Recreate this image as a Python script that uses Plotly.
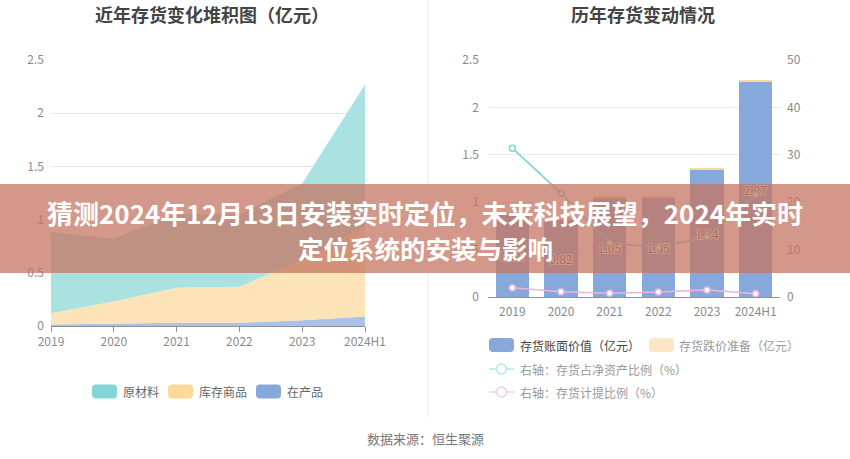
import plotly.graph_objects as go

W, H = 850, 459

# ---------------- data ----------------
categories = ["2019", "2020", "2021", "2022", "2023", "2024H1"]
# left: stacked area (亿元)
raw_material = [0.76, 0.59, 0.69, 0.68, 0.72, 1.34]      # 原材料
finished_goods = [0.105, 0.205, 0.33, 0.34, 0.565, 0.84]  # 库存商品
work_in_progress = [0.015, 0.025, 0.03, 0.03, 0.055, 0.09]  # 在产品
# right: bars (亿元) + lines (%)
book_value = [0.88, 0.82, 1.05, 1.05, 1.34, 2.27]         # 存货账面价值
impairment = [0.018, 0.009, 0.008, 0.011, 0.02, 0.016]     # 存货跌价准备
inv_to_net_assets = [31.4, 21.9, 11.4, 10.5, 12.7, 21.5]   # 存货占净资产比例
provision_ratio = [1.96, 1.1, 0.8, 1.05, 1.5, 0.7]         # 存货计提比例
left_ticks = [0, 0.5, 1, 1.5, 2, 2.5]
left_tick_text = ["0", "0.5", "1", "1.5", "2", "2.5"]
right_ticks = [0, 10, 20, 30, 40, 50]

FONT = "Noto Sans CJK SC"
TEAL, ORANGE, BLUE, PINK = "#83D6D8", "#FDD89A", "#87A8DA", "#E8B6E0"
TICK_COLOR = "#8a8a8a"
GRID = "#E4E9F1"


def px(x):
    return x / W


def py(y):
    return 1 - y / H


fig = go.Figure()

# ---- left stacked area ----
for name, vals, fc in [("在产品", work_in_progress, "#ABC2E8"),
                       ("库存商品", finished_goods, "#FDE4B8"),
                       ("原材料", raw_material, "#AAE2E2")]:
    fig.add_trace(go.Scatter(x=categories, y=vals, name=name, mode="lines",
                             stackgroup="a", line=dict(width=0), fillcolor=fc,
                             xaxis="x", yaxis="y", hoverinfo="skip"))

# ---- right bars ----
fig.add_trace(go.Bar(x=categories, y=book_value, name="存货账面价值（亿元）",
                     marker=dict(color=BLUE, line=dict(width=0)), width=0.68,
                     text=[f"{v:.2f}" for v in book_value], textposition="inside",
                     insidetextanchor="middle",
                     textfont=dict(family=FONT, size=12, color="#555555",
                                   shadow="1px 1px 0 #fff, -1px -1px 0 #fff, 1px -1px 0 #fff, -1px 1px 0 #fff"),
                     xaxis="x2", yaxis="y2", hoverinfo="skip"))
fig.add_trace(go.Bar(x=categories, y=impairment, name="存货跌价准备（亿元）",
                     marker=dict(color=ORANGE, line=dict(width=0)), width=0.68,
                     xaxis="x2", yaxis="y2", hoverinfo="skip"))
fig.add_trace(go.Scatter(x=categories, y=inv_to_net_assets, mode="lines+markers",
                         line=dict(color="#7FD5D2", width=1.6),
                         marker=dict(symbol="circle", size=6, color="white",
                                     line=dict(color="#7FD5D2", width=1.5)),
                         xaxis="x2", yaxis="y3", hoverinfo="skip"))
fig.add_trace(go.Scatter(x=categories, y=provision_ratio, mode="lines+markers",
                         line=dict(color=PINK, width=1.6),
                         marker=dict(symbol="circle", size=6, color="white",
                                     line=dict(color=PINK, width=1.5)),
                         xaxis="x2", yaxis="y3", hoverinfo="skip"))

tickfont = dict(family=FONT, size=12, color=TICK_COLOR)

shapes = []
annotations = []

# divider
shapes.append(dict(type="line", xref="paper", yref="paper", x0=px(428), x1=px(428),
                   y0=py(0), y1=py(418), line=dict(color="#EEEEEE", width=1), layer="below"))


def rrect(x0, y0, x1, y1, r, color):
    pts = (f"M {px(x0 + r)},{py(y0)} L {px(x1 - r)},{py(y0)} Q {px(x1)},{py(y0)} {px(x1)},{py(y0 + r)} "
           f"L {px(x1)},{py(y1 - r)} Q {px(x1)},{py(y1)} {px(x1 - r)},{py(y1)} "
           f"L {px(x0 + r)},{py(y1)} Q {px(x0)},{py(y1)} {px(x0)},{py(y1 - r)} "
           f"L {px(x0)},{py(y0 + r)} Q {px(x0)},{py(y0)} {px(x0 + r)},{py(y0)} Z")
    return dict(type="path", xref="paper", yref="paper", path=pts, fillcolor=color,
                line=dict(width=0))


def label(x, y, text, color="#666666", size=12, anchor="left", weight=None):
    f = dict(family=FONT, size=size, color=color)
    if weight:
        f["weight"] = weight
    annotations.append(dict(x=px(x), y=py(y), xref="paper", yref="paper", text=text,
                            showarrow=False, xanchor=anchor, yanchor="middle", font=f))


# titles
label(212, 14, "近年存货变化堆积图（亿元）", color="#444444", size=18, anchor="center", weight=700)
label(643, 14, "历年存货变动情况", color="#444444", size=18, anchor="center", weight=700)

# left legend
for x0, name, c in [(92, "原材料", TEAL), (168, "库存商品", ORANGE), (256, "在产品", BLUE)]:
    shapes.append(rrect(x0, 384.5, x0 + 25, 398.5, 4, c))
    label(x0 + 29, 391, name, color="#666666")

# right legend
shapes.append(rrect(489, 338, 514, 352, 4, BLUE))
label(518, 345, "存货账面价值（亿元）", color="#444444")
shapes.append(rrect(649, 338, 674, 352, 4, "#FDE6C4"))
label(677, 345, "存货跌价准备（亿元）", color="#999999")
for yy, c, t in [(369, "#B5E8E6", "右轴：存货占净资产比例（%）"), (392, "#F0CFEA", "右轴：存货计提比例（%）")]:
    shapes.append(dict(type="line", xref="paper", yref="paper", x0=px(489), x1=px(514),
                       y0=py(yy), y1=py(yy), line=dict(color=c, width=1.5)))
    shapes.append(dict(type="circle", xref="paper", yref="paper", x0=px(496.5), x1=px(506.5),
                       y0=py(yy - 5), y1=py(yy + 5), fillcolor="white", line=dict(color=c, width=1.5)))
    label(518, yy, t, color="#999999")

# source
label(425, 438, "数据来源：恒生聚源", color="#777777", size=13, anchor="center")

# banner
shapes.append(dict(type="rect", xref="paper", yref="paper", x0=0, x1=1, y0=py(273), y1=py(184),
                   fillcolor="rgba(196,118,98,0.75)", line=dict(width=0), layer="above"))
label(425, 212, "猜测2024年12月13日安装实时定位，未来科技展望，2024年实时", color="white", size=26,
      anchor="center", weight=700)
label(425, 247, "定位系统的安装与影响", color="white", size=25.5, anchor="center", weight=700)

fig.update_layout(
    width=W, height=H, autosize=False,
    margin=dict(l=0, r=0, t=0, b=0, pad=0, autoexpand=False),
    paper_bgcolor="white", plot_bgcolor="white",
    showlegend=False, barmode="stack",
    font=dict(family=FONT),
    xaxis=dict(domain=[px(51), px(365)], type="category", range=[0, 5], anchor="y",
               showline=True, linecolor="#8E9099", linewidth=1, ticks="outside", ticklen=5,
               tickcolor="#8E9099", tickfont=tickfont, showgrid=False, zeroline=False,
               fixedrange=True, automargin=False),
    yaxis=dict(domain=[py(326), py(60)], range=[0, 2.5], anchor="x", tickvals=left_ticks,
               ticktext=left_tick_text, tickfont=tickfont, gridcolor=GRID, gridwidth=1,
               showline=False, zeroline=False, ticklabelstandoff=6, fixedrange=True,
               automargin=False),
    xaxis2=dict(domain=[px(488), px(780)], type="category", range=[-0.5, 5.5], anchor="y2",
                showline=True, linecolor="#8E9099", linewidth=1, ticks="", tickfont=tickfont,
                showgrid=False, zeroline=False, ticklabelstandoff=4, fixedrange=True,
                automargin=False),
    yaxis2=dict(domain=[py(297), py(60)], range=[0, 2.5], anchor="x2", tickvals=left_ticks,
                ticktext=left_tick_text, tickfont=tickfont, gridcolor=GRID, gridwidth=1,
                showline=False, zeroline=False, ticklabelstandoff=8, fixedrange=True,
                automargin=False),
    yaxis3=dict(overlaying="y2", side="right", anchor="x2", range=[0, 50], tickvals=right_ticks,
                tickfont=tickfont, showgrid=False, showline=False, zeroline=False,
                ticklabelstandoff=6, fixedrange=True, automargin=False),
    shapes=shapes, annotations=annotations,
    uniformtext=dict(minsize=12, mode="show"),
)

fig.write_html("out.html")
